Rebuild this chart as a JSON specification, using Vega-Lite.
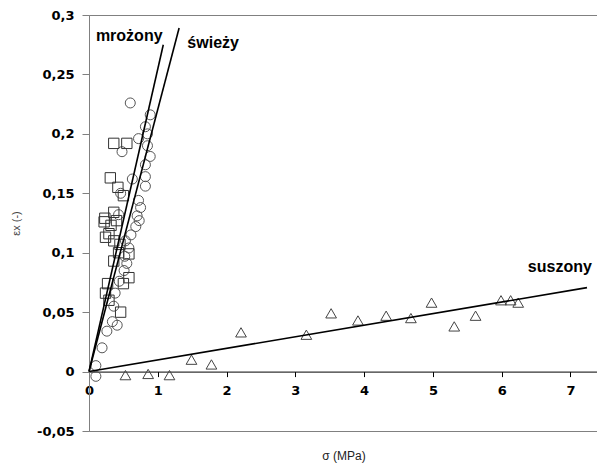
{
  "$schema": "https://vega.github.io/schema/vega-lite/v6.json",
  "width": 509,
  "height": 416,
  "autosize": {"type": "none"},
  "padding": {"left": 89, "top": 15, "right": 0, "bottom": 38},
  "background": "white",
  "config": {
    "view": {"stroke": "#808080", "strokeWidth": 1},
    "font": "Liberation Sans",
    "locale": {"number": {"decimal": ",", "thousands": " ", "grouping": [3], "currency": ["", " zł"], "minus": "-"}}
  },
  "datasets": {
    "pts": [
      {"seria": "świeży", "sigma": 0.60, "eps": 0.226},
      {"seria": "świeży", "sigma": 0.89, "eps": 0.216},
      {"seria": "świeży", "sigma": 0.82, "eps": 0.206},
      {"seria": "świeży", "sigma": 0.85, "eps": 0.200},
      {"seria": "świeży", "sigma": 0.72, "eps": 0.196},
      {"seria": "świeży", "sigma": 0.85, "eps": 0.190},
      {"seria": "świeży", "sigma": 0.89, "eps": 0.181},
      {"seria": "świeży", "sigma": 0.48, "eps": 0.185},
      {"seria": "świeży", "sigma": 0.82, "eps": 0.174},
      {"seria": "świeży", "sigma": 0.82, "eps": 0.164},
      {"seria": "świeży", "sigma": 0.63, "eps": 0.162},
      {"seria": "świeży", "sigma": 0.82, "eps": 0.156},
      {"seria": "świeży", "sigma": 0.46, "eps": 0.150},
      {"seria": "świeży", "sigma": 0.72, "eps": 0.144},
      {"seria": "świeży", "sigma": 0.75, "eps": 0.138},
      {"seria": "świeży", "sigma": 0.70, "eps": 0.131},
      {"seria": "świeży", "sigma": 0.73, "eps": 0.127},
      {"seria": "świeży", "sigma": 0.68, "eps": 0.122},
      {"seria": "świeży", "sigma": 0.43, "eps": 0.132},
      {"seria": "świeży", "sigma": 0.61, "eps": 0.115},
      {"seria": "świeży", "sigma": 0.53, "eps": 0.110},
      {"seria": "świeży", "sigma": 0.58, "eps": 0.104},
      {"seria": "świeży", "sigma": 0.52, "eps": 0.097},
      {"seria": "świeży", "sigma": 0.55, "eps": 0.091},
      {"seria": "świeży", "sigma": 0.51, "eps": 0.085},
      {"seria": "świeży", "sigma": 0.44, "eps": 0.076},
      {"seria": "świeży", "sigma": 0.38, "eps": 0.066},
      {"seria": "świeży", "sigma": 0.36, "eps": 0.055},
      {"seria": "świeży", "sigma": 0.41, "eps": 0.039},
      {"seria": "świeży", "sigma": 0.34, "eps": 0.042},
      {"seria": "świeży", "sigma": 0.26, "eps": 0.034},
      {"seria": "świeży", "sigma": 0.19, "eps": 0.020},
      {"seria": "świeży", "sigma": 0.10, "eps": 0.005},
      {"seria": "świeży", "sigma": 0.10, "eps": -0.004},
      {"seria": "mrożony", "sigma": 0.36, "eps": 0.192},
      {"seria": "mrożony", "sigma": 0.55, "eps": 0.192},
      {"seria": "mrożony", "sigma": 0.31, "eps": 0.163},
      {"seria": "mrożony", "sigma": 0.42, "eps": 0.155},
      {"seria": "mrożony", "sigma": 0.50, "eps": 0.148},
      {"seria": "mrożony", "sigma": 0.36, "eps": 0.134},
      {"seria": "mrożony", "sigma": 0.23, "eps": 0.129},
      {"seria": "mrożony", "sigma": 0.22, "eps": 0.126},
      {"seria": "mrożony", "sigma": 0.32, "eps": 0.123},
      {"seria": "mrożony", "sigma": 0.40, "eps": 0.127},
      {"seria": "mrożony", "sigma": 0.29, "eps": 0.116},
      {"seria": "mrożony", "sigma": 0.24, "eps": 0.113},
      {"seria": "mrożony", "sigma": 0.36, "eps": 0.110},
      {"seria": "mrożony", "sigma": 0.45, "eps": 0.107},
      {"seria": "mrożony", "sigma": 0.58, "eps": 0.099},
      {"seria": "mrożony", "sigma": 0.43, "eps": 0.100},
      {"seria": "mrożony", "sigma": 0.36, "eps": 0.093},
      {"seria": "mrożony", "sigma": 0.58, "eps": 0.079},
      {"seria": "mrożony", "sigma": 0.50, "eps": 0.074},
      {"seria": "mrożony", "sigma": 0.27, "eps": 0.074},
      {"seria": "mrożony", "sigma": 0.24, "eps": 0.066},
      {"seria": "mrożony", "sigma": 0.29, "eps": 0.060},
      {"seria": "mrożony", "sigma": 0.46, "eps": 0.050},
      {"seria": "suszony", "sigma": 0.53, "eps": -0.003},
      {"seria": "suszony", "sigma": 0.86, "eps": -0.002},
      {"seria": "suszony", "sigma": 1.17, "eps": -0.003},
      {"seria": "suszony", "sigma": 1.49, "eps": 0.010},
      {"seria": "suszony", "sigma": 1.78, "eps": 0.006},
      {"seria": "suszony", "sigma": 2.21, "eps": 0.033},
      {"seria": "suszony", "sigma": 3.16, "eps": 0.031},
      {"seria": "suszony", "sigma": 3.52, "eps": 0.049},
      {"seria": "suszony", "sigma": 3.91, "eps": 0.043},
      {"seria": "suszony", "sigma": 4.32, "eps": 0.047},
      {"seria": "suszony", "sigma": 4.68, "eps": 0.045},
      {"seria": "suszony", "sigma": 4.98, "eps": 0.058},
      {"seria": "suszony", "sigma": 5.31, "eps": 0.038},
      {"seria": "suszony", "sigma": 5.62, "eps": 0.047},
      {"seria": "suszony", "sigma": 5.99, "eps": 0.060},
      {"seria": "suszony", "sigma": 6.13, "eps": 0.060},
      {"seria": "suszony", "sigma": 6.24, "eps": 0.058}
    ],
    "lines": [
      {"seria": "świeży", "sigma": 0, "eps": 0},
      {"seria": "świeży", "sigma": 1.31, "eps": 0.289},
      {"seria": "mrożony", "sigma": 0, "eps": 0},
      {"seria": "mrożony", "sigma": 1.08, "eps": 0.275},
      {"seria": "suszony", "sigma": 0, "eps": 0},
      {"seria": "suszony", "sigma": 7.24, "eps": 0.0706}
    ],
    "labels": [
      {"label": "mrożony", "sigma": 0.1, "eps": 0.278},
      {"label": "świeży", "sigma": 1.43, "eps": 0.272},
      {"label": "suszony", "sigma": 6.38, "eps": 0.084}
    ]
  },
  "encoding": {
    "x": {
      "field": "sigma", "type": "quantitative",
      "scale": {"domain": [0, 7.4], "nice": false, "zero": false},
      "axis": {
        "title": "σ (MPa)", "values": [0, 1, 2, 3, 4, 5, 6, 7], "format": "d",
        "offset": -59.4, "grid": false,
        "domainColor": "#000000", "tickColor": "#000000", "tickSize": 5,
        "labelFont": "DejaVu Sans", "labelFontSize": 13, "labelFontWeight": "bold", "labelColor": "#000000",
        "labelPadding": 8, "labelFlush": false,
        "titleFont": "Liberation Sans", "titleFontSize": 12, "titleFontWeight": "normal", "titleColor": "#222222",
        "titlePadding": 53
      }
    },
    "y": {
      "field": "eps", "type": "quantitative",
      "scale": {"domain": [-0.05, 0.3], "nice": false, "zero": false},
      "axis": {
        "title": "εx (-)", "values": [-0.05, 0, 0.05, 0.1, 0.15, 0.2, 0.25, 0.3], "format": ".2~f",
        "grid": false,
        "domainColor": "#808080", "tickColor": "#808080", "tickSize": 7,
        "labelFont": "DejaVu Sans", "labelFontSize": 13, "labelFontWeight": "bold", "labelColor": "#000000",
        "labelPadding": 8,
        "titleFont": "Liberation Sans", "titleFontSize": 11, "titleFontWeight": "normal", "titleColor": "#444444",
        "titlePadding": 15
      }
    }
  },
  "layer": [
    {
      "data": {"name": "pts"},
      "mark": {"type": "point", "filled": false, "strokeWidth": 1, "opacity": 1},
      "encoding": {
        "shape": {"field": "seria", "type": "nominal", "legend": null,
          "scale": {"domain": ["świeży", "mrożony", "suszony"], "range": ["circle", "square", "triangle-up"]}},
        "size": {"field": "seria", "type": "nominal", "legend": null,
          "scale": {"domain": ["świeży", "mrożony", "suszony"], "range": [100, 115, 150]}},
        "color": {"field": "seria", "type": "nominal", "legend": null,
          "scale": {"domain": ["świeży", "mrożony", "suszony"], "range": ["#555555", "#333333", "#444444"]}}
      }
    },
    {
      "data": {"name": "lines"},
      "mark": {"type": "line", "color": "#000000", "strokeWidth": 1.6},
      "encoding": {"detail": {"field": "seria", "type": "nominal"}}
    },
    {
      "data": {"name": "labels"},
      "mark": {"type": "text", "align": "left", "baseline": "alphabetic", "font": "Liberation Sans", "fontSize": 16, "fontWeight": "bold", "color": "#000000"},
      "encoding": {"text": {"field": "label", "type": "nominal"}}
    }
  ]
}
